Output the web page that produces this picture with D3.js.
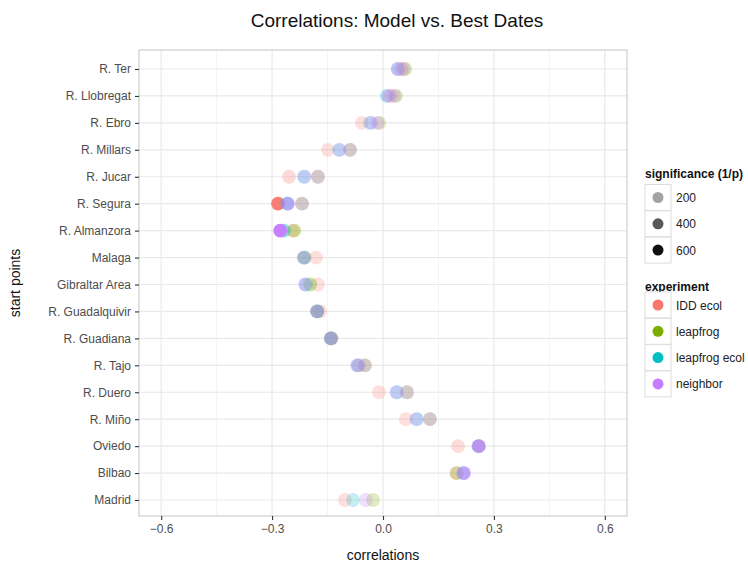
<!DOCTYPE html>
<html><head><meta charset="utf-8">
<script src="https://cdn.jsdelivr.net/npm/d3@7"></script>
<style>body{margin:0;background:#fff;} text{font-family:"Liberation Sans", Arial, Helvetica, sans-serif;}</style>
</head><body><svg id="chart" width="748" height="567"></svg>
<script>
// ---------------- data ----------------
const startPoints = ["R. Ter","R. Llobregat","R. Ebro","R. Millars","R. Jucar","R. Segura","R. Almanzora",
  "Malaga","Gibraltar Area","R. Guadalquivir","R. Guadiana","R. Tajo","R. Duero","R. Miño","Oviedo","Bilbao","Madrid"];
const experiments = ["IDD ecol","leapfrog","leapfrog ecol","neighbor"];
const experimentColors = ["#F8766D","#7CAE00","#00BFC4","#C77CFF"];
const xTicks = [-0.6,-0.3,0.0,0.3,0.6];
const xMinorTicks = [-0.45,-0.15,0.15,0.45];
const significanceTicks = [200,400,600];

// correlations per start point (some runs have two results)
const iddEcolCorr = [[0.05],[0.02],[-0.057],[-0.149],[-0.254],[-0.284],[-0.245],[-0.181],[-0.176],[-0.17],[-0.138],[-0.065],[-0.011],[0.062],[0.203],[0.198],[-0.103]];
const iddEcolSig  = [[120],[120],[110],[110],[140],[600],[120],[110],[110],[110],[110],[100],[110],[110],[130],[140],[110]];
const leapfrogCorr = [[0.06],[0.035],[-0.01],[-0.089],[-0.176],[-0.219],[-0.24],[-0.212],[-0.197],[-0.178],[-0.141],[-0.048],[0.065],[0.127],[0.26],[0.2],[-0.027]];
const leapfrogSig  = [[150],[150],[120],[150],[150],[160],[200],[170],[200],[220],[200],[150],[150],[150],[120],[140],[120]];
const leapfrogEcolCorr = [[0.04],[0.01],[-0.035],[-0.119],[-0.214],[-0.259],[-0.268],[-0.214],[-0.208],[-0.178],[-0.141],[-0.068],[0.038],[0.092],[0.258],[0.217],[-0.081]];
const leapfrogEcolSig  = [[150],[140],[130],[130],[140],[250],[250],[170],[160],[200],[200],[170],[140],[140],[150],[180],[110]];
const neighborCorr = [[0.04,0.055],[0.015,0.03],[-0.032,-0.015],[-0.117,-0.089],[-0.212,-0.176],[-0.257,-0.219],[-0.278],[-0.214],[-0.211],[-0.178],[-0.141],[-0.07,-0.05],[0.036,0.065],[0.09,0.127],[0.259],[0.219],[-0.046]];
const neighborSig  = [[200,150],[180,140],[150,140],[150,150],[150,150],[330,150],[620],[200],[200],[250],[250],[200,140],[150,150],[150,150],[460],[380],[120]];

const seriesCorr = [iddEcolCorr, leapfrogCorr, leapfrogEcolCorr, neighborCorr];
const seriesSig = [iddEcolSig, leapfrogSig, leapfrogEcolSig, neighborSig];

// ---------------- chart ----------------
const svg = d3.select("#chart");
const W = 748, H = 567;
const panel = {left: 139, right: 627, top: 50, bottom: 516};

svg.append("rect").attr("width", W).attr("height", H).attr("fill", "#fff");

const x = d3.scaleLinear().domain([-0.66, 0.66]).range([panel.left, panel.right]);
const y = d3.scalePoint().domain(startPoints).range([69, 500]);
const alpha = d3.scaleLinear().domain([20, 640]).range([0.1, 1]).clamp(true);
const color = d3.scaleOrdinal().domain(experiments).range(experimentColors);

// grid
const g = svg.append("g");
g.selectAll(".minor").data(xMinorTicks).join("line")
  .attr("x1", d => x(d)).attr("x2", d => x(d)).attr("y1", panel.top).attr("y2", panel.bottom)
  .attr("stroke", "#f4f4f4").attr("stroke-width", 1);
g.selectAll(".majorx").data(xTicks).join("line")
  .attr("x1", d => x(d)).attr("x2", d => x(d)).attr("y1", panel.top).attr("y2", panel.bottom)
  .attr("stroke", "#e9e9e9").attr("stroke-width", 1.2);
g.selectAll(".majory").data(startPoints).join("line")
  .attr("x1", panel.left).attr("x2", panel.right).attr("y1", d => y(d)).attr("y2", d => y(d))
  .attr("stroke", "#e9e9e9").attr("stroke-width", 1.2);

// points
const pts = [];
experiments.forEach((e, i) => {
  startPoints.forEach((s, j) => {
    seriesCorr[i][j].forEach((v, k) => pts.push({exp: e, start: s, corr: v, sig: seriesSig[i][j][k]}));
  });
});
svg.append("g").selectAll("circle").data(pts).join("circle")
  .attr("cx", d => x(d.corr)).attr("cy", d => y(d.start)).attr("r", 6.9)
  .attr("fill", d => color(d.exp)).attr("fill-opacity", d => alpha(d.sig));

// panel border
svg.append("rect").attr("x", panel.left).attr("y", panel.top)
  .attr("width", panel.right - panel.left).attr("height", panel.bottom - panel.top)
  .attr("fill", "none").attr("stroke", "#c4c4c4").attr("stroke-width", 1);

// axes
const xAxis = svg.append("g").attr("transform", `translate(0,${panel.bottom})`)
  .call(d3.axisBottom(x).tickValues(xTicks).tickFormat(d3.format(".1f")).tickSize(4).tickPadding(4));
const yAxis = svg.append("g").attr("transform", `translate(${panel.left},0)`)
  .call(d3.axisLeft(y).tickSize(4).tickPadding(4));
[xAxis, yAxis].forEach(a => {
  a.select(".domain").remove();
  a.selectAll(".tick line").attr("stroke", "#333").attr("stroke-width", 1.1);
  a.selectAll(".tick text").attr("fill", "#4d4d4d").style("font-size", "12px")
    .style("font-family", '"Liberation Sans", Arial, sans-serif');
});

// titles
svg.append("text").attr("x", 397).attr("y", 27).attr("text-anchor", "middle")
  .style("font-size", "19px").attr("fill", "#111").text("Correlations: Model vs. Best Dates");
svg.append("text").attr("x", x(0)).attr("y", 560).attr("text-anchor", "middle")
  .style("font-size", "14px").attr("fill", "#111").text("correlations");
svg.append("text").attr("transform", `translate(20,${(panel.top + panel.bottom) / 2}) rotate(-90)`)
  .attr("text-anchor", "middle").style("font-size", "14px").attr("fill", "#111").text("start points");

// legends
const keyX = 645, keySize = 26;
function legend(title, titleY, firstY, items) {
  const lg = svg.append("g");
  lg.append("text").attr("x", keyX).attr("y", titleY).style("font-size", "12px")
    .style("font-weight", "bold").attr("fill", "#111").text(title);
  items.forEach((it, i) => {
    const cy = firstY + i * 26.3;
    lg.append("rect").attr("x", keyX).attr("y", cy - keySize / 2).attr("width", keySize).attr("height", keySize)
      .attr("fill", "#fff").attr("stroke", "#dcdcdc").attr("stroke-width", 1);
    lg.append("circle").attr("cx", keyX + keySize / 2).attr("cy", cy).attr("r", 5.5)
      .attr("fill", it.fill).attr("fill-opacity", it.op);
    lg.append("text").attr("x", keyX + keySize + 5).attr("y", cy + 4.5).style("font-size", "12px")
      .attr("fill", "#222").text(it.label);
  });
}
legend("significance (1/p)", 178, 197.5, significanceTicks.map(s => ({fill: "#000", op: alpha(s), label: s})));
legend("experiment", 291, 305, experiments.map(e => ({fill: color(e), op: 1, label: e})));
</script></body></html>
